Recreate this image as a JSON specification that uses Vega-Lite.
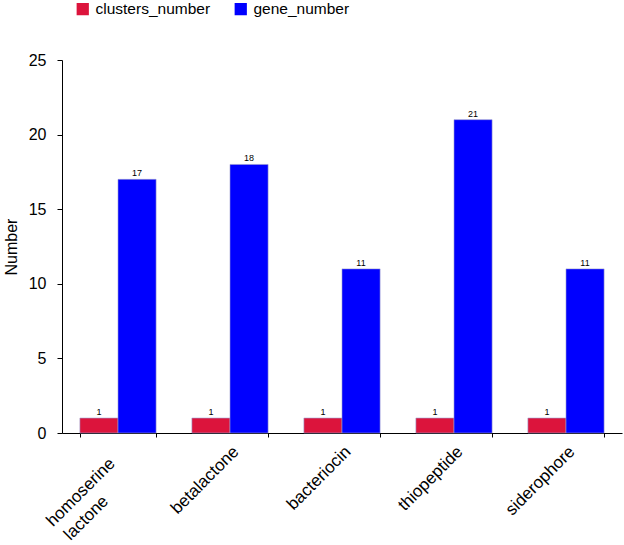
{
  "$schema": "https://vega.github.io/schema/vega-lite/v6.json",
  "width": 560,
  "height": 373,
  "padding": {"left": 3, "top": 1, "right": 2, "bottom": 2},
  "config": {
    "view": {"stroke": null},
    "font": "Liberation Sans",
    "axis": {"domainColor": "black", "tickColor": "black", "labelColor": "black", "titleColor": "black", "grid": false}
  },
  "data": {
    "values": [
      {"type": "homoserine lactone", "series": "clusters_number", "value": 1},
      {"type": "homoserine lactone", "series": "gene_number", "value": 17},
      {"type": "betalactone", "series": "clusters_number", "value": 1},
      {"type": "betalactone", "series": "gene_number", "value": 18},
      {"type": "bacteriocin", "series": "clusters_number", "value": 1},
      {"type": "bacteriocin", "series": "gene_number", "value": 11},
      {"type": "thiopeptide", "series": "clusters_number", "value": 1},
      {"type": "thiopeptide", "series": "gene_number", "value": 21},
      {"type": "siderophore", "series": "clusters_number", "value": 1},
      {"type": "siderophore", "series": "gene_number", "value": 11}
    ]
  },
  "encoding": {
    "x": {
      "field": "type",
      "type": "nominal",
      "sort": null,
      "scale": {"paddingInner": 0.32, "paddingOuter": 0.16},
      "axis": {
        "title": null,
        "labelAngle": -45,
        "labelFontSize": 17,
        "labelPadding": 6,
        "tickBand": "extent",
        "tickSize": 4,
        "labelExpr": "datum.label == 'homoserine lactone' ? ['homoserine\u00a0\u2800', 'lactone\u2800\u2800\u2800\u2800'] : datum.label",
        "labelLineHeight": 22
      }
    },
    "xOffset": {"field": "series", "type": "nominal", "sort": ["clusters_number", "gene_number"]},
    "y": {
      "field": "value",
      "type": "quantitative",
      "scale": {"domain": [0, 25]},
      "axis": {
        "title": "Number",
        "values": [0, 5, 10, 15, 20, 25],
        "labelFontSize": 16,
        "labelPadding": 11,
        "titleFontSize": 16,
        "titleFontWeight": "normal",
        "titlePadding": 9,
        "tickSize": 5
      }
    }
  },
  "layer": [
    {
      "mark": {"type": "bar", "stroke": "#9a9acd", "strokeWidth": 0.6},
      "encoding": {
        "color": {
          "field": "series",
          "type": "nominal",
          "scale": {"domain": ["clusters_number", "gene_number"], "range": ["#DC143C", "#0000FF"]},
          "legend": {
            "title": null,
            "orient": "none",
            "direction": "horizontal",
            "legendX": 13,
            "legendY": -59,
            "symbolType": "square",
            "symbolSize": 150,
            "symbolStrokeWidth": 0,
            "labelFontSize": 15.5,
            "columnPadding": 22,
            "labelOffset": 5
          }
        }
      }
    },
    {
      "mark": {"type": "text", "baseline": "bottom", "dy": -1, "fontSize": 9, "color": "black"},
      "encoding": {"text": {"field": "value", "type": "quantitative"}}
    }
  ]
}
